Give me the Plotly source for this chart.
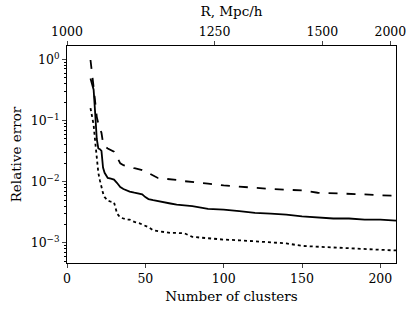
import plotly.graph_objects as go

clusters = [15, 16, 17, 18, 19, 20, 21, 22, 23, 24, 26, 28, 30, 32, 34, 36, 38, 40, 43, 46, 48, 50,
            52, 55, 58, 62, 66, 70, 75, 80, 90, 100, 110, 120, 130, 140, 150, 160, 170, 180, 190, 200, 210]

err_dashed = [0.98, 0.63, 0.35, 0.2, 0.115, 0.089, 0.076, 0.063, 0.043, 0.038, 0.035, 0.033, 0.031,
              0.025, 0.020, 0.0186, 0.0178, 0.0174, 0.0166, 0.0162, 0.0155, 0.0148, 0.0138, 0.0126,
              0.0115, 0.0112, 0.011, 0.0107, 0.0102, 0.0098, 0.0093, 0.0087, 0.0083, 0.0079, 0.0076,
              0.0074, 0.0072, 0.0066, 0.0065, 0.0063, 0.0062, 0.006, 0.0059]

err_solid = [0.49, 0.40, 0.32, 0.13, 0.05, 0.035, 0.034, 0.032, 0.017, 0.014, 0.0115, 0.0112, 0.0108,
             0.0095, 0.0082, 0.0076, 0.0072, 0.0069, 0.0066, 0.0064, 0.0062, 0.0056, 0.0052, 0.0050,
             0.0048, 0.0046, 0.0044, 0.0042, 0.0041, 0.0040, 0.0036, 0.0035, 0.0033, 0.0031, 0.0030,
             0.0029, 0.0027, 0.0026, 0.0025, 0.0025, 0.0024, 0.0024, 0.0023]

err_dotted = [0.16, 0.12, 0.085, 0.045, 0.025, 0.014, 0.0105, 0.008, 0.0065, 0.0056, 0.0049, 0.0047,
              0.0046, 0.0030, 0.0026, 0.0025, 0.0024, 0.0024, 0.0022, 0.0021, 0.0020, 0.0019, 0.0018,
              0.0016, 0.00155, 0.0015, 0.00145, 0.00145, 0.00143, 0.00125, 0.00118, 0.00113, 0.0011,
              0.00105, 0.001, 0.00098, 0.00089, 0.00086, 0.00083, 0.00081, 0.00079, 0.00077, 0.00075]

bottom_ticks = [0, 50, 100, 150, 200]
top_tick_pos = [0, 94.2, 163, 206.4]
top_tick_labels = ["1000", "1250", "1500", "2000"]
y_tick_vals = [1, 0.1, 0.01, 0.001]
y_tick_text = ["10<sup>0</sup>", "10<sup>−1</sup>", "10<sup>−2</sup>", "10<sup>−3</sup>"]
minor_vals = [round(v * m, 6) for v in [0.0001, 0.001, 0.01, 0.1, 1] for m in range(2, 10)
              if 0.00047 < v * m < 1.66]

FONT = "DejaVu Serif"
TITLE_FONT = dict(family=FONT, size=13.5, color="black")
fig = go.Figure()
fig.add_trace(go.Scatter(x=clusters, y=err_dashed, mode="lines",
                         line=dict(color="black", width=1.8, dash="dash"), showlegend=False))
fig.add_trace(go.Scatter(x=clusters, y=err_solid, mode="lines",
                         line=dict(color="black", width=1.8), showlegend=False))
fig.add_trace(go.Scatter(x=clusters, y=err_dotted, mode="lines",
                         line=dict(color="black", width=1.8, dash="dot"), showlegend=False))
fig.add_trace(go.Scatter(x=[None], y=[None], xaxis="x2", showlegend=False, hoverinfo="skip"))

fig.update_layout(
    width=415, height=314,
    margin=dict(l=67, r=19, t=46, b=51),
    plot_bgcolor="white", paper_bgcolor="white",
    font=dict(family=FONT, size=12.5, color="black"),
    xaxis=dict(range=[0, 210], tickvals=bottom_ticks, ticks="outside", ticklen=4,
               showline=True, linecolor="black", linewidth=1, mirror=True, showgrid=False,
               zeroline=False, automargin=False,
               title=dict(text="Number of clusters", standoff=6, font=TITLE_FONT)),
    xaxis2=dict(range=[0, 210], overlaying="x", side="top", tickvals=top_tick_pos,
                ticktext=top_tick_labels, ticks="outside", ticklen=4, showgrid=False,
                zeroline=False, automargin=False,
                title=dict(text="R, Mpc/h", standoff=4, font=TITLE_FONT)),
    yaxis=dict(type="log", range=[-3.33, 0.22], tickvals=y_tick_vals, ticktext=y_tick_text,
               ticks="outside", ticklen=4, showline=True, linecolor="black", linewidth=1,
               mirror=True, showgrid=False, zeroline=False, automargin=False,
               minor=dict(ticks="outside", ticklen=2, tickcolor="black", tickvals=minor_vals,
                          showgrid=False),
               title=dict(text="Relative error", standoff=5, font=TITLE_FONT)),
)

fig.write_html("out.html", config={"displayModeBar": False},
               post_script="document.body.style.margin='0';")
